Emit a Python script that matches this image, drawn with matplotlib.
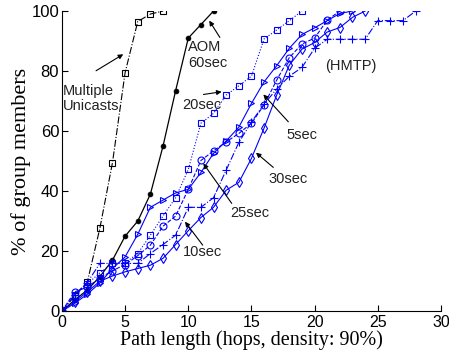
import matplotlib
matplotlib.use("Agg")
import matplotlib.pyplot as plt

# ---- data ----
unicast_x = list(range(0, 9))
unicast_y = [0, 5, 9.6, 27.6, 49.5, 79.5, 96.5, 99, 100]

aom_x = list(range(0, 13))
aom_y = [0, 3.7, 7, 11.5, 17, 25, 30, 39, 55, 73.5, 91, 95.5, 100]

s5_x = list(range(0, 24))
s5_y = [0, 2.6, 5.6, 9.4, 14.2, 18.1, 25.6, 34.6, 37, 39.4, 40.6, 46.2, 52.6,
        56.7, 61.3, 69.2, 76.4, 81.8, 87.6, 92.2, 94.4, 96.8, 99.2, 100]

s10_x = list(range(0, 29))
s10_y = [0, 5.5, 9.5, 15.9, 15.9, 15.9, 15.9, 19.2, 22.2, 25.3, 34.6, 34.6, 37.8,
         47, 56.2, 63, 69, 74, 78.3, 81.2, 87.6, 90.6, 90.6, 90.6, 90.6, 96.8,
         96.8, 96.8, 100]

s20_x = list(range(0, 20))
s20_y = [0, 5.5, 9, 12.8, 15.9, 16.1, 19.2, 25.3, 31.7, 37.8, 47.2, 62.6, 65.9,
         72, 75.1, 78.3, 90.7, 93.7, 96.8, 100]

s25_x = list(range(0, 23))
s25_y = [0, 6.4, 8, 11, 13.5, 15.5, 18.5, 22, 28.3, 31.7, 40.6, 50.2, 53.4,
         56.4, 59.2, 62.6, 68.7, 77, 84.5, 89, 91, 97, 100]

s30_x = list(range(0, 25))
s30_y = [0, 3.1, 6.4, 10, 11.7, 13.1, 14.2, 15.3, 17.6, 22.2, 26.8, 31.2, 34.6,
         40.3, 42.9, 50.9, 61, 72, 82, 87.3, 89.5, 93, 94.5, 97.9, 100]

xticks = [0, 5, 10, 15, 20, 25, 30]
yticks = [0, 20, 40, 60, 80, 100]

# ---- figure ----
fig = plt.figure(figsize=(4.49, 3.56), dpi=100)
ax = fig.add_axes([0.138, 0.126, 0.844, 0.843])

blue = "#0000ff"
mk = dict(markersize=5, markerfacecolor="none", markeredgewidth=0.8)

ax.plot(unicast_x, unicast_y, color="black", ls="-.", lw=0.8, marker="s",
        markersize=4, markerfacecolor="none", markeredgewidth=0.8)
ax.plot(aom_x, aom_y, color="black", ls="-", lw=0.9, marker="o",
        markersize=3.5, markerfacecolor="black", markeredgewidth=0.5)
ax.plot(s5_x, s5_y, color=blue, ls="-", lw=0.8, marker=">", **mk)
ax.plot(s10_x, s10_y, color=blue, ls="-.", lw=0.8, marker="+",
        markersize=5.5, markeredgewidth=0.8)
ax.plot(s20_x, s20_y, color=blue, ls=":", lw=0.8, marker="s",
        markersize=4.2, markerfacecolor="none", markeredgewidth=0.8)
ax.plot(s25_x, s25_y, color=blue, ls="--", lw=0.8, marker="o", **mk)
ax.plot(s30_x, s30_y, color=blue, ls="-", lw=0.8, marker="d", **mk)

ax.set_xlim(0, 30)
ax.set_ylim(0, 100)
ax.set_xticks(xticks)
ax.set_yticks(yticks)
ax.tick_params(direction="in", length=4, width=0.8)
ax.tick_params(axis="x", pad=3, labelsize=11.5)
ax.tick_params(axis="y", pad=2, labelsize=12)
for lab in ax.get_xticklabels() + ax.get_yticklabels():
    lab.set_fontfamily("Liberation Sans")
ax.spines["top"].set_visible(False)
ax.spines["right"].set_visible(False)

ax.set_xlabel("Path length (hops, density: 90%)", family="Liberation Serif",
              fontsize=14.5, labelpad=0)
ax.set_ylabel("% of group members", family="Liberation Serif",
              fontsize=16, labelpad=0)

tf = dict(family="Liberation Sans", fontsize=10.5, color="#222222")
ap = dict(arrowstyle="-|>", color="black", lw=0.8, mutation_scale=7,
          shrinkA=0, shrinkB=0)

ax.annotate("", xy=(4.85, 85.6), xytext=(2.7, 80.1), arrowprops=ap)
ax.text(0.1, 70.8, "Multiple\nUnicasts", ha="left", va="center",
        linespacing=1.15, **tf)

ax.annotate("", xy=(11.66, 96.8), xytext=(12.5, 91.2), arrowprops=ap)
ax.text(10.0, 85.3, "AOM\n60sec", ha="left", va="center", linespacing=1.15, **tf)

ax.annotate("", xy=(12.64, 73.1), xytext=(11.2, 72.2), arrowprops=ap)
ax.text(9.5, 68.8, "20sec", ha="left", va="center", **tf)

ax.text(22.9, 81.7, "(HMTP)", ha="center", va="center", **tf)

ax.annotate("", xy=(15.94, 72.2), xytext=(17.92, 63.1), arrowprops=ap)
ax.text(19.0, 58.7, "5sec", ha="center", va="center", **tf)

ax.annotate("", xy=(15.36, 52.8), xytext=(16.73, 47.9), arrowprops=ap)
ax.text(17.9, 44.0, "30sec", ha="center", va="center", **tf)

ax.annotate("", xy=(11.19, 49.2), xytext=(13.44, 35.9), arrowprops=ap)
ax.text(14.9, 32.7, "25sec", ha="center", va="center", **tf)

ax.annotate("", xy=(9.74, 29.8), xytext=(11.14, 22.0), arrowprops=ap)
ax.text(11.1, 19.7, "10sec", ha="center", va="center", **tf)

fig.savefig("out.png", dpi=100)
